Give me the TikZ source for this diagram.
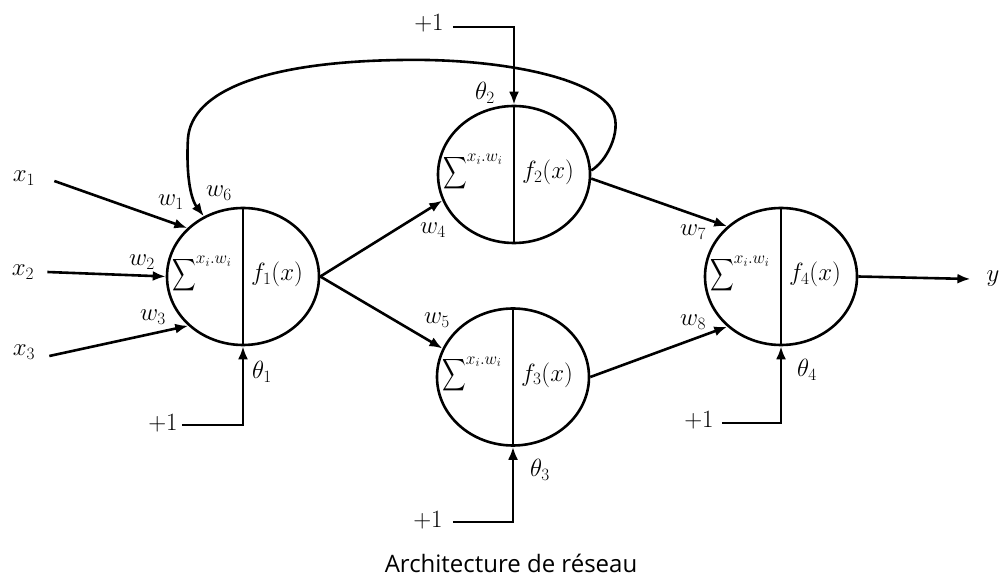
\documentclass[tikz,border=0pt]{standalone}
\usepackage{amsmath}
\usepackage{fontspec}
\usetikzlibrary{arrows.meta,shapes.geometric}
\newfontfamily\capfont{Open Sans}
\newcommand\sumw{$\displaystyle\mathop{\scalebox{0.66}[0.9]{$\displaystyle\sum$}}\nolimits^{x_i.w_i}$}
\begin{document}
\begin{tikzpicture}[x=1pt,y=-1pt,
  every node/.style={font=\fontsize{25}{30}\selectfont},
  neuron/.style={draw, ellipse, line width=2.6pt, minimum width=152pt,
                 minimum height=137pt, inner sep=0pt},
  wire/.style={line width=2.6pt},
  link/.style={wire, -{Latex[length=13pt,width=10pt]}},
  lbl/.style={inner sep=0pt}]
\useasboundingbox (0,0) rectangle (1002,577);

% neurons
\node[neuron] (n1) at (243,276.5) {};
\node[neuron] (n2) at (514,174.5) {};
\node[neuron] (n3) at (513,377) {};
\node[neuron] (n4) at (781,276.5) {};
\foreach \n in {n1,n2,n3,n4}
  \draw[wire] (\n.north) -- (\n.south);

% summation and activation inside each neuron
\foreach \n/\k in {n1/1,n2/2,n3/3,n4/4}{
  \node[lbl] (s\k) at ([xshift=-41pt,yshift=2pt]\n.center) {\sumw};
  \node[lbl] (f\k) at ([xshift=34pt,yshift=2pt]\n.center) {$f_\k(x)$};
}

% inputs and output
\node[lbl] (x1) at (24,178) {$x_1$};
\node[lbl] (x2) at (23,272) {$x_2$};
\node[lbl] (x3) at (24,352) {$x_3$};
\node[lbl] (y) at (993,279) {$y$};

\draw[link] ([xshift=19pt,yshift=-3pt]x1.east) -- (n1.139);
\draw[link] ([xshift=13pt]x2.east) -- (n1.180);
\draw[link] ([xshift=14pt,yshift=-4pt]x3.east) -- (n1.222);

\draw[link] (n1.east) -- (n2.200);
\draw[link] (n1.east) -- (n3.158);
\draw[link] (n2.357) -- (n4.137);
\draw[link] (n3.east) -- (n4.223);
\draw[link] (n4.east) -- ([xshift=-16pt]y.west);

% recurrent connection from neuron 2 back to neuron 1
\draw[link] (n2.3) .. controls (606,162) and (622,132) .. (613,112)
  .. controls (598,78) and (500,58) .. (400,60)
  .. controls (262,62) and (192,92) .. (188,138)
  .. controls (186,172) and (190,198) .. (n1.123);

% biases
\node[lbl] (b1) at (163,423) {$+1$};
\node[lbl] (b2) at (429,23) {$+1$};
\node[lbl] (b3) at (428,520) {$+1$};
\node[lbl] (b4) at (699,420) {$+1$};
\draw[link] ([xshift=4pt,yshift=-2pt]b1.east) -| (n1.south);
\draw[link] ([xshift=9pt,yshift=-4pt]b2.east) -| (n2.north);
\draw[link] ([xshift=10pt,yshift=-2pt]b3.east) -| (n3.south);
\draw[link] ([xshift=8pt,yshift=-3pt]b4.east) -| (n4.south);

\node[lbl] (t1) at (262,372) {$\theta_1$};
\node[lbl] (t2) at (485,93) {$\theta_2$};
\node[lbl] (t3) at (540,470) {$\theta_3$};
\node[lbl] (t4) at (807,370) {$\theta_4$};

% weights
\node[lbl] (w1) at (171,202) {$w_1$};
\node[lbl] (w6) at (219,193) {$w_6$};
\node[lbl] (w2) at (142,262) {$w_2$};
\node[lbl] (w3) at (153,317) {$w_3$};
\node[lbl] (w4) at (433,230) {$w_4$};
\node[lbl] (w5) at (437,320) {$w_5$};
\node[lbl] (w7) at (693,232) {$w_7$};
\node[lbl] (w8) at (693,322) {$w_8$};

\node[lbl, font=\capfont\fontsize{24}{28}\selectfont] (cap) at (511,563)
  {Architecture de réseau};
\end{tikzpicture}
\end{document}
